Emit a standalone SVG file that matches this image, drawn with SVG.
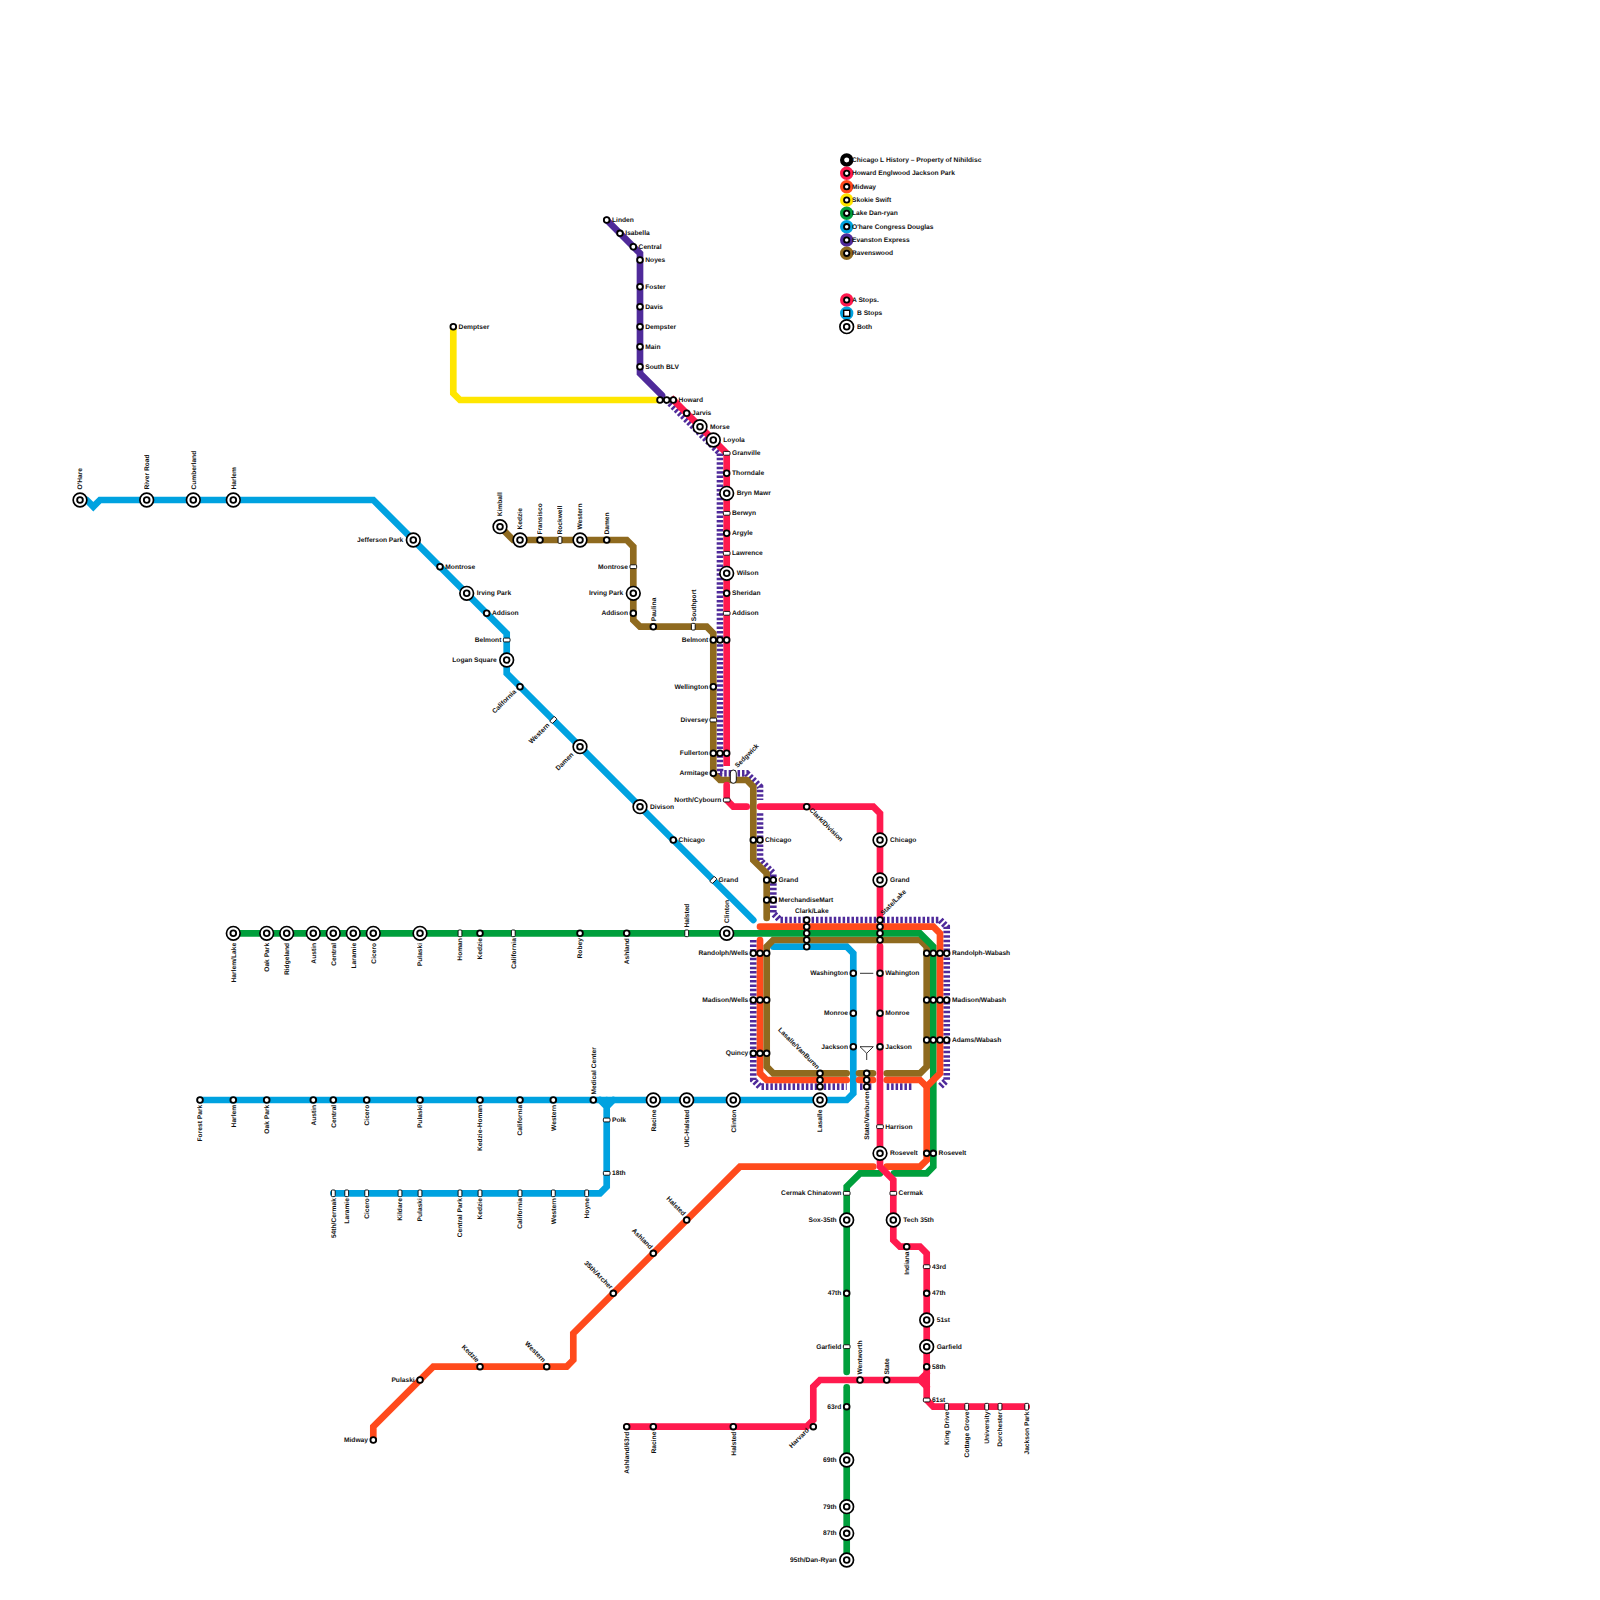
<svg xmlns="http://www.w3.org/2000/svg" xmlns:xlink="http://www.w3.org/1999/xlink" width="1600" height="1600" viewBox="0 0 1600 1600">
<style>
text{font-family:"Liberation Sans",Arial,sans-serif;font-size:6.67px;font-weight:bold;fill:#111;text-rendering:geometricPrecision;opacity:.999;translate:0 -.4px}
.e{text-anchor:end}
path{fill:none;stroke-width:6.67;stroke-linejoin:miter;stroke-linecap:round}
.re{stroke:#ff1a4e}.or{stroke:#ff4a1c}.ye{stroke:#ffe600}.gr{stroke:#009f3c}.bl{stroke:#00a2e0}.pu{stroke:#4f2a9a;stroke-linecap:butt;stroke-dasharray:2.5 1.94}.ps{stroke:#4f2a9a}.br{stroke:#8f6a1f}
.s{fill:#fff;stroke:#000;stroke-width:1.85}
.b{fill:#fff;stroke:#000;stroke-width:1.67}
.r{fill:#fff;stroke:#000;stroke-width:.9}
.lg{stroke-width:4.2;fill:#fff}
.thin{stroke:#000;stroke-width:.8;fill:none;stroke-linecap:butt}
</style>
<defs>
<circle id="t" r="2.85" class="s"/>
<g id="d"><circle r="6.83" class="b"/><circle r="2.85" class="s"/></g>
<rect id="h" x="-3.33" y="-1.9" width="6.67" height="3.8" rx="1" class="r"/>
<rect id="v" x="-1.9" y="-3.33" width="3.8" height="6.67" rx="1" class="r"/>
</defs>
<g id="connectors">
<path id="line-skokie" class="ye" style="stroke-linecap:butt" d="M453.3,326.7V393.3L460,400H660"/>
<path id="line-evanston" class="ps" d="M606.7,220L640,253.3V373.3L662,395.3"/>
<path class="pu" d="M666.7,400L720,453.3V773.3H746.7L760,786.7V800"/>
<path class="pu" d="M760,813.3V860L773.3,873.3V913.3L780,920H940L946.7,926.7V1080L940,1086.7"/>
<path class="pu" d="M753.3,940V1080L760,1086.7H846.7M860,1086.7H873.3M886.7,1086.7H913.3"/>
<path id="line-ohare" class="bl" d="M86.7,500L93.3,506.7L100,500H373.3L506.7,633.3V673.3L753.3,920"/>
<path id="line-congress" class="bl" d="M200,1100H846.7L853.3,1093.3V953.3L846.7,946.7H773.3"/>
<path id="line-douglas" class="bl" d="M600,1100L606.7,1106.7L613.3,1100M606.7,1100V1186.7L600,1193.3H333.3"/>
<path id="line-midway-1" class="or" d="M760,940V1073.3L766.7,1080H846.7"/>
<path class="or" d="M859,1080H873"/>
<path id="line-midway-2" class="or" d="M873.3,1166.7H740L573.3,1333.3V1360L566.7,1366.7H433.3L373.3,1426.7V1440"/>
<path id="line-ravenswood" class="br" d="M500,526.7L513.3,540H626.7L633.3,546.7V620L640,626.7H706.7L713.3,633.3V773.3L720,780H746.7L753.3,786.7V860L766.7,873.3V918"/>
<path class="br" d="M846.7,1073.3H773.3L766.7,1066.7V946.7L773.3,940H920L926.7,946.7V1066.7L920,1073.3H886.7"/>
<path class="br" d="M859,1073.3H873"/>
<path id="line-danryan-1" class="gr" d="M233.3,933.3H920L933.3,946.7V1166.7L926.7,1173.3H894"/>
<path id="line-danryan-2" class="gr" d="M880,1173.3H860L846.7,1186.7V1372"/>
<path class="gr" d="M846.7,1387.3V1560"/>
<path class="or" d="M760,926.7H933.3L940,933.3V1073.3L926.7,1086.7"/>
<path class="or" d="M886.7,1080H920L926.7,1086.7V1160L920,1166.7H886.7"/>
<path id="line-jackson-1" class="re" style="stroke-linecap:butt" d="M671,397.7L726.7,453.3V766"/>
<path class="re" d="M726.7,785V800L733.3,806.7H746.7"/>
<path class="re" d="M760,806.7H873.3L880,813.3V916"/>
<path id="line-jackson-2" class="re" d="M880,946V1166.7L893.3,1180V1240L900,1246.7H920L926.7,1253.3V1400L933.3,1406.7H1026.7"/>
<path id="line-englewood" class="re" d="M626.7,1426.7H806.7L813.3,1420V1386.7L820,1380H920L926.7,1373.3M920,1380L926.7,1386.7"/>
</g>
<g id="legend">
<g id="lg1"><circle cx="846.7" cy="160" r="4.6" class="lg" stroke="#000"/><circle cx="846.7" cy="160" r="2" fill="#fff"/><text x="852" y="162.4">Chicago L History – Property of Nihildisc</text></g>
<g id="lg2"><circle cx="846.7" cy="173.3" r="4.6" class="lg" stroke="#ff1a4e"/><circle cx="846.7" cy="173.3" r="2.67" class="s"/><text x="852" y="175.7">Howard Englwood Jackson Park</text></g>
<g id="lg3"><circle cx="846.7" cy="186.7" r="4.6" class="lg" stroke="#ff4a1c"/><circle cx="846.7" cy="186.7" r="2.67" class="s"/><text x="852" y="189.1">Midway</text></g>
<g id="lg4"><circle cx="846.7" cy="200" r="4.6" class="lg" stroke="#ffe600"/><circle cx="846.7" cy="200" r="2.67" class="s"/><text x="852" y="202.4">Skokie Swift</text></g>
<g id="lg5"><circle cx="846.7" cy="213.3" r="4.6" class="lg" stroke="#009f3c"/><circle cx="846.7" cy="213.3" r="2.67" class="s"/><text x="852" y="215.7">Lake Dan-ryan</text></g>
<g id="lg6"><circle cx="846.7" cy="226.7" r="4.6" class="lg" stroke="#00a2e0"/><circle cx="846.7" cy="226.7" r="2.67" class="s"/><text x="852" y="229.1">O'hare Congress Douglas</text></g>
<g id="lg7"><circle cx="846.7" cy="240" r="4.6" class="lg" stroke="#4f2a9a"/><circle cx="846.7" cy="240" r="2.67" class="s"/><text x="852" y="242.4">Evanston Express</text></g>
<g id="lg8"><circle cx="846.7" cy="253.3" r="4.6" class="lg" stroke="#8f6a1f"/><circle cx="846.7" cy="253.3" r="2.67" class="s"/><text x="852" y="255.7">Ravenswood</text></g>
<g id="lgA"><circle cx="846.7" cy="300" r="4.6" class="lg" stroke="#ff1a4e"/><circle cx="846.7" cy="300" r="2.67" class="s"/><text x="852" y="302.4">A Stops.</text></g>
<g id="lgB"><circle cx="846.7" cy="313.3" r="4.6" class="lg" stroke="#00a2e0"/><rect x="843.7" y="310.3" width="6" height="6" class="s" style="stroke-width:1.4"/><text x="857" y="315.7">B Stops</text></g>
<g id="lgC"><use href="#d" x="846.7" y="326.7"/><text x="857" y="329.1">Both</text></g>
</g>
<g id="stops-skokie">
<g id="st-demptser"><use href="#t" x="453.3" y="326.7"/><text x="458.6" y="329.1">Demptser</text></g>
</g>
<g id="stops-evanston">
<g id="st-linden"><use href="#t" x="606.7" y="220"/><text x="612" y="222.4">Linden</text></g>
<g id="st-isabella"><use href="#t" x="620" y="233.3"/><text x="625.3" y="235.7">Isabella</text></g>
<g id="st-central"><use href="#t" x="633.3" y="246.7"/><text x="638.6" y="249.1">Central</text></g>
<g id="st-noyes"><use href="#t" x="640" y="260"/><text x="645.3" y="262.4">Noyes</text></g>
<g id="st-foster"><use href="#t" x="640" y="286.7"/><text x="645.3" y="289.1">Foster</text></g>
<g id="st-davis"><use href="#t" x="640" y="306.7"/><text x="645.3" y="309.1">Davis</text></g>
<g id="st-dempster"><use href="#t" x="640" y="326.7"/><text x="645.3" y="329.1">Dempster</text></g>
<g id="st-main"><use href="#t" x="640" y="346.7"/><text x="645.3" y="349.1">Main</text></g>
<g id="st-south"><use href="#t" x="640" y="366.7"/><text x="645.3" y="369.1">South BLV</text></g>
</g>
<g id="stops-north">
<g id="st-howard"><use href="#t" x="660" y="400"/><use href="#t" x="666.7" y="400"/><use href="#t" x="673.3" y="400"/><text x="678.6" y="402.4">Howard</text></g>
<g id="st-jarvis"><use href="#t" x="686.7" y="413.3"/><text x="692" y="415.7">Jarvis</text></g>
<g id="st-morse"><use href="#d" x="700" y="426.7"/><text x="710" y="429.1">Morse</text></g>
<g id="st-loyola"><use href="#d" x="713.3" y="440"/><text x="723.3" y="442.4">Loyola</text></g>
<g id="st-granville"><use href="#h" x="726.7" y="453.3"/><text x="732" y="455.7">Granville</text></g>
<g id="st-thorndale"><use href="#t" x="726.7" y="473.3"/><text x="732" y="475.7">Thorndale</text></g>
<g id="st-brynmawr"><use href="#d" x="726.7" y="493.3"/><text x="736.7" y="495.7">Bryn Mawr</text></g>
<g id="st-berwyn"><use href="#h" x="726.7" y="513.3"/><text x="732" y="515.7">Berwyn</text></g>
<g id="st-argyle"><use href="#t" x="726.7" y="533.3"/><text x="732" y="535.7">Argyle</text></g>
<g id="st-lawrence"><use href="#h" x="726.7" y="553.3"/><text x="732" y="555.7">Lawrence</text></g>
<g id="st-wilson"><use href="#d" x="726.7" y="573.3"/><text x="736.7" y="575.7">Wilson</text></g>
<g id="st-sheridan"><use href="#t" x="726.7" y="593.3"/><text x="732" y="595.7">Sheridan</text></g>
<g id="st-addison-r"><use href="#h" x="726.7" y="613.3"/><text x="732" y="615.7">Addison</text></g>
<g id="st-belmont"><use href="#t" x="713.3" y="640"/><use href="#t" x="720" y="640"/><use href="#t" x="726.7" y="640"/><text class="e" x="708.3" y="642.4">Belmont</text></g>
<g id="st-wellington"><use href="#t" x="713.3" y="686.7"/><text class="e" x="708.3" y="689.1">Wellington</text></g>
<g id="st-diversey"><use href="#h" x="713.3" y="720"/><text class="e" x="708.3" y="722.4">Diversey</text></g>
<g id="st-fullerton"><use href="#t" x="713.3" y="753.3"/><use href="#t" x="720" y="753.3"/><use href="#t" x="726.7" y="753.3"/><text class="e" x="708.3" y="755.7">Fullerton</text></g>
<g id="st-armitage"><use href="#t" x="713.3" y="773.3"/><text class="e" x="708.3" y="775.7">Armitage</text></g>
<g id="st-sedgwick"><rect x="730.3" y="770" width="6" height="13.3" rx="3" class="r"/><text x="737.5" y="768.5" transform="rotate(-45 737.5 768.5)">Sedgwick</text></g>
<g id="st-north"><use href="#h" x="726.7" y="800"/><text class="e" x="721.3" y="802.4">North/Cybourn</text></g>
<g id="st-clarkdiv"><use href="#t" x="806.7" y="806.7"/><text x="809" y="811" transform="rotate(45 809 811)">Clark/Division</text></g>
<g id="st-chicago-b"><use href="#t" x="753.3" y="840"/><use href="#t" x="760" y="840"/><text x="765" y="842.4">Chicago</text></g>
<g id="st-grand-b"><use href="#t" x="766.7" y="880"/><use href="#t" x="773.3" y="880"/><text x="778.6" y="882.4">Grand</text></g>
<g id="st-mart"><use href="#t" x="766.7" y="900"/><use href="#t" x="773.3" y="900"/><text x="778.6" y="902.4">MerchandiseMart</text></g>
<g id="st-chicago-r"><use href="#d" x="880" y="840"/><text x="890" y="842.4">Chicago</text></g>
<g id="st-grand-r"><use href="#d" x="880" y="880"/><text x="890" y="882.4">Grand</text></g>
</g>
<g id="stops-ravenswood">
<g id="st-kimball"><use href="#d" x="500" y="526.7"/><text x="502.4" y="516.7" transform="rotate(-90 502.4 516.7)">Kimball</text></g>
<g id="st-kedzie-br"><use href="#d" x="520" y="540"/><text x="522.4" y="530" transform="rotate(-90 522.4 530)">Kedzie</text></g>
<g id="st-fransisco"><use href="#t" x="540" y="540"/><text x="542.4" y="535" transform="rotate(-90 542.4 535)">Fransisco</text></g>
<g id="st-rockwell"><use href="#v" x="560" y="540"/><text x="562.4" y="535" transform="rotate(-90 562.4 535)">Rockwell</text></g>
<g id="st-western-br"><use href="#d" x="580" y="540"/><text x="582.4" y="530" transform="rotate(-90 582.4 530)">Western</text></g>
<g id="st-damen-br"><use href="#t" x="606.7" y="540"/><text x="609.1" y="535" transform="rotate(-90 609.1 535)">Damen</text></g>
<g id="st-montrose-br"><use href="#h" x="633.3" y="566.7"/><text class="e" x="628" y="569.1">Montrose</text></g>
<g id="st-irving-br"><use href="#d" x="633.3" y="593.3"/><text class="e" x="623.3" y="595.7">Irving Park</text></g>
<g id="st-addison-br"><use href="#t" x="633.3" y="613.3"/><text class="e" x="628" y="615.7">Addison</text></g>
<g id="st-paulina"><use href="#t" x="653.3" y="626.7"/><text x="655.7" y="621.7" transform="rotate(-90 655.7 621.7)">Paulina</text></g>
<g id="st-southport"><use href="#v" x="693.3" y="626.7"/><text x="695.7" y="621.7" transform="rotate(-90 695.7 621.7)">Southport</text></g>
</g>
<g id="stops-ohare">
<g id="st-ohare"><use href="#d" x="80" y="500"/><text x="82.4" y="490" transform="rotate(-90 82.4 490)">O'Hare</text></g>
<g id="st-river"><use href="#d" x="146.7" y="500"/><text x="149.1" y="490" transform="rotate(-90 149.1 490)">River Road</text></g>
<g id="st-cumberland"><use href="#d" x="193.3" y="500"/><text x="195.7" y="490" transform="rotate(-90 195.7 490)">Cumberland</text></g>
<g id="st-harlem-o"><use href="#d" x="233.3" y="500"/><text x="235.7" y="490" transform="rotate(-90 235.7 490)">Harlem</text></g>
<g id="st-jefferson"><use href="#d" x="413.3" y="540"/><text class="e" x="403.3" y="542.4">Jefferson Park</text></g>
<g id="st-montrose-o"><use href="#t" x="440" y="566.7"/><text x="445.3" y="569.1">Montrose</text></g>
<g id="st-irving-o"><use href="#d" x="466.7" y="593.3"/><text x="476.7" y="595.7">Irving Park</text></g>
<g id="st-addison-o"><use href="#t" x="486.7" y="613.3"/><text x="492" y="615.7">Addison</text></g>
<g id="st-belmont-o"><use href="#h" x="506.7" y="640"/><text class="e" x="501.4" y="642.4">Belmont</text></g>
<g id="st-logan"><use href="#d" x="506.7" y="660"/><text class="e" x="496.7" y="662.4">Logan Square</text></g>
<g id="st-california-o"><use href="#t" x="520" y="686.7"/><text class="e" x="516.5" y="692.5" transform="rotate(-45 516.5 692.5)">California</text></g>
<g id="st-western-o"><use href="#h" x="553.3" y="720" transform="rotate(-45 553.3 720)"/><text class="e" x="550" y="726" transform="rotate(-45 550 726)">Western</text></g>
<g id="st-damen-o"><use href="#d" x="580" y="746.7"/><text class="e" x="574" y="755.5" transform="rotate(-45 574 755.5)">Damen</text></g>
<g id="st-divison"><use href="#d" x="640" y="806.7"/><text x="650" y="809.1">Divison</text></g>
<g id="st-chicago-o"><use href="#t" x="673.3" y="840"/><text x="678.6" y="842.4">Chicago</text></g>
<g id="st-grand-o"><use href="#h" x="713.3" y="880" transform="rotate(-45 713.3 880)"/><text x="718.6" y="882.4">Grand</text></g>
</g>
<g id="stops-green-west">
<g id="st-harlemlake"><use href="#d" x="233.3" y="933.3"/><text class="e" x="235.7" y="943.3" transform="rotate(-90 235.7 943.3)">Harlem/Lake</text></g>
<g id="st-oak-g"><use href="#d" x="266.7" y="933.3"/><text class="e" x="269.1" y="943.3" transform="rotate(-90 269.1 943.3)">Oak Park</text></g>
<g id="st-ridgeland"><use href="#d" x="286.7" y="933.3"/><text class="e" x="289.1" y="943.3" transform="rotate(-90 289.1 943.3)">Ridgeland</text></g>
<g id="st-austin-g"><use href="#d" x="313.3" y="933.3"/><text class="e" x="315.7" y="943.3" transform="rotate(-90 315.7 943.3)">Austin</text></g>
<g id="st-central-g"><use href="#d" x="333.3" y="933.3"/><text class="e" x="335.7" y="943.3" transform="rotate(-90 335.7 943.3)">Central</text></g>
<g id="st-laramie-g"><use href="#d" x="353.3" y="933.3"/><text class="e" x="355.7" y="943.3" transform="rotate(-90 355.7 943.3)">Laramie</text></g>
<g id="st-cicero-g"><use href="#d" x="373.3" y="933.3"/><text class="e" x="375.7" y="943.3" transform="rotate(-90 375.7 943.3)">Cicero</text></g>
<g id="st-pulaski-g"><use href="#d" x="420" y="933.3"/><text class="e" x="422.4" y="943.3" transform="rotate(-90 422.4 943.3)">Pulaski</text></g>
<g id="st-homan"><use href="#v" x="460" y="933.3"/><text class="e" x="462.4" y="938.5" transform="rotate(-90 462.4 938.5)">Homan</text></g>
<g id="st-kedzie-g"><use href="#t" x="480" y="933.3"/><text class="e" x="482.4" y="938.5" transform="rotate(-90 482.4 938.5)">Kedzie</text></g>
<g id="st-california-g"><use href="#v" x="513.3" y="933.3"/><text class="e" x="515.7" y="938.5" transform="rotate(-90 515.7 938.5)">California</text></g>
<g id="st-robey"><use href="#t" x="580" y="933.3"/><text class="e" x="582.4" y="938.5" transform="rotate(-90 582.4 938.5)">Robey</text></g>
<g id="st-ashland-g"><use href="#t" x="626.7" y="933.3"/><text class="e" x="629.1" y="938.5" transform="rotate(-90 629.1 938.5)">Ashland</text></g>
<g id="st-halsted-g"><use href="#v" x="686.7" y="933.3"/><text x="689.1" y="928" transform="rotate(-90 689.1 928)">Halsted</text></g>
<g id="st-clinton-g"><use href="#d" x="726.7" y="933.3"/><text x="729.1" y="923.3" transform="rotate(-90 729.1 923.3)">Clinton</text></g>
</g>
<g id="stops-loop">
<g id="st-clarklake"><use href="#t" x="806.7" y="920"/><use href="#t" x="806.7" y="926.7"/><use href="#t" x="806.7" y="933.3"/><use href="#t" x="806.7" y="940"/><use href="#t" x="806.7" y="946.7"/><text x="795" y="913.2">Clark/Lake</text></g>
<g id="st-statelake"><use href="#t" x="880" y="920"/><use href="#t" x="880" y="926.7"/><use href="#t" x="880" y="933.3"/><use href="#t" x="880" y="940"/><text x="883" y="916" transform="rotate(-45 883 916)">State/Lake</text></g>
<g id="st-randolphwells"><use href="#t" x="753.3" y="953.3"/><use href="#t" x="760" y="953.3"/><use href="#t" x="766.7" y="953.3"/><text class="e" x="748.3" y="955.7">Randolph/Wells</text></g>
<g id="st-madisonwells"><use href="#t" x="753.3" y="1000"/><use href="#t" x="760" y="1000"/><use href="#t" x="766.7" y="1000"/><text class="e" x="748.3" y="1002.4">Madison/Wells</text></g>
<g id="st-quincy"><use href="#t" x="753.3" y="1053.3"/><use href="#t" x="760" y="1053.3"/><use href="#t" x="766.7" y="1053.3"/><text class="e" x="748.3" y="1055.7">Quincy</text></g>
<g id="st-randolphwabash"><use href="#t" x="926.7" y="953.3"/><use href="#t" x="933.3" y="953.3"/><use href="#t" x="940" y="953.3"/><use href="#t" x="946.7" y="953.3"/><text x="952" y="955.7">Randolph-Wabash</text></g>
<g id="st-madisonwabash"><use href="#t" x="926.7" y="1000"/><use href="#t" x="933.3" y="1000"/><use href="#t" x="940" y="1000"/><use href="#t" x="946.7" y="1000"/><text x="952" y="1002.4">Madison/Wabash</text></g>
<g id="st-adamswabash"><use href="#t" x="926.7" y="1040"/><use href="#t" x="933.3" y="1040"/><use href="#t" x="940" y="1040"/><use href="#t" x="946.7" y="1040"/><text x="952" y="1042.4">Adams/Wabash</text></g>
<g id="st-washington"><use href="#t" x="853.3" y="973.3"/><text class="e" x="848" y="975.7">Washington</text></g>
<g id="st-monroe-b"><use href="#t" x="853.3" y="1013.3"/><text class="e" x="848" y="1015.7">Monroe</text></g>
<g id="st-jackson-b"><use href="#t" x="853.3" y="1046.7"/><text class="e" x="848" y="1049.1">Jackson</text></g>
<g id="st-wahington"><use href="#t" x="880" y="973.3"/><text x="885.3" y="975.7">Wahington</text></g>
<g id="st-monroe-r"><use href="#t" x="880" y="1013.3"/><text x="885.3" y="1015.7">Monroe</text></g>
<g id="st-jackson-r"><use href="#t" x="880" y="1046.7"/><text x="885.3" y="1049.1">Jackson</text></g>
<path class="thin" d="M860,973.3H873.3"/>
<path class="thin" d="M860,1046.7H873.3L866.7,1053.3L860,1046.7M866.7,1053.3V1060"/>
<g id="st-lasallevan"><use href="#t" x="820" y="1073.3"/><use href="#t" x="820" y="1080"/><use href="#t" x="820" y="1086.7"/><text class="e" x="817" y="1070" transform="rotate(45 817 1070)">Lasalle/VanBuren</text></g>
<g id="st-statevan"><use href="#t" x="866.7" y="1073.3"/><use href="#t" x="866.7" y="1080"/><use href="#t" x="866.7" y="1086.7"/><text class="e" x="869.1" y="1091.7" transform="rotate(-90 869.1 1091.7)">State/Vanburen</text></g>
<g id="st-harrison"><use href="#h" x="880" y="1126.7"/><text x="885.3" y="1129.1">Harrison</text></g>
<g id="st-rosevelt-r"><use href="#d" x="880" y="1153.3"/><text x="890" y="1155.7">Rosevelt</text></g>
<g id="st-rosevelt-g"><use href="#t" x="926.7" y="1153.3"/><use href="#t" x="933.3" y="1153.3"/><text x="938.6" y="1155.7">Rosevelt</text></g>
</g>
<g id="stops-congress">
<g id="st-forest"><use href="#t" x="200" y="1100"/><text class="e" x="202.4" y="1105.2" transform="rotate(-90 202.4 1105.2)">Forest Park</text></g>
<g id="st-harlem-c"><use href="#t" x="233.3" y="1100"/><text class="e" x="235.7" y="1105.2" transform="rotate(-90 235.7 1105.2)">Harlem</text></g>
<g id="st-oak-c"><use href="#t" x="266.7" y="1100"/><text class="e" x="269.1" y="1105.2" transform="rotate(-90 269.1 1105.2)">Oak Park</text></g>
<g id="st-austin-c"><use href="#t" x="313.3" y="1100"/><text class="e" x="315.7" y="1105.2" transform="rotate(-90 315.7 1105.2)">Austin</text></g>
<g id="st-central-c"><use href="#t" x="333.3" y="1100"/><text class="e" x="335.7" y="1105.2" transform="rotate(-90 335.7 1105.2)">Central</text></g>
<g id="st-cicero-c"><use href="#t" x="366.7" y="1100"/><text class="e" x="369.1" y="1105.2" transform="rotate(-90 369.1 1105.2)">Cicero</text></g>
<g id="st-pulaski-c"><use href="#t" x="420" y="1100"/><text class="e" x="422.4" y="1105.2" transform="rotate(-90 422.4 1105.2)">Pulaski</text></g>
<g id="st-kedzie-c"><use href="#t" x="480" y="1100"/><text class="e" x="482.4" y="1105.2" transform="rotate(-90 482.4 1105.2)">Kedzie-Homan</text></g>
<g id="st-california-c"><use href="#t" x="520" y="1100"/><text class="e" x="522.4" y="1105.2" transform="rotate(-90 522.4 1105.2)">California</text></g>
<g id="st-western-c"><use href="#t" x="553.3" y="1100"/><text class="e" x="555.7" y="1105.2" transform="rotate(-90 555.7 1105.2)">Western</text></g>
<g id="st-medical"><use href="#t" x="593.3" y="1100"/><text x="595.7" y="1095" transform="rotate(-90 595.7 1095)">Medical Center</text></g>
<g id="st-racine-c"><use href="#d" x="653.3" y="1100"/><text class="e" x="655.7" y="1110" transform="rotate(-90 655.7 1110)">Racine</text></g>
<g id="st-uic"><use href="#d" x="686.7" y="1100"/><text class="e" x="689.1" y="1110" transform="rotate(-90 689.1 1110)">UIC-Halsted</text></g>
<g id="st-clinton-c"><use href="#d" x="733.3" y="1100"/><text class="e" x="735.7" y="1110" transform="rotate(-90 735.7 1110)">Clinton</text></g>
<g id="st-lasalle"><use href="#d" x="820" y="1100"/><text class="e" x="822.4" y="1110" transform="rotate(-90 822.4 1110)">Lasalle</text></g>
<g id="st-polk"><use href="#h" x="606.7" y="1120"/><text x="612" y="1122.4">Polk</text></g>
<g id="st-18th"><use href="#h" x="606.7" y="1173.3"/><text x="612" y="1175.7">18th</text></g>
</g>
<g id="stops-douglas">
<g id="st-54th"><use href="#v" x="333.3" y="1193.3"/><text class="e" x="335.7" y="1198.5" transform="rotate(-90 335.7 1198.5)">54th/Cermak</text></g>
<g id="st-laramie-d"><use href="#v" x="346.7" y="1193.3"/><text class="e" x="349.1" y="1198.5" transform="rotate(-90 349.1 1198.5)">Laramie</text></g>
<g id="st-cicero-d"><use href="#v" x="366.7" y="1193.3"/><text class="e" x="369.1" y="1198.5" transform="rotate(-90 369.1 1198.5)">Cicero</text></g>
<g id="st-kildare"><use href="#v" x="400" y="1193.3"/><text class="e" x="402.4" y="1198.5" transform="rotate(-90 402.4 1198.5)">Kildare</text></g>
<g id="st-pulaski-d"><use href="#v" x="420" y="1193.3"/><text class="e" x="422.4" y="1198.5" transform="rotate(-90 422.4 1198.5)">Pulaski</text></g>
<g id="st-centralpark"><use href="#v" x="460" y="1193.3"/><text class="e" x="462.4" y="1198.5" transform="rotate(-90 462.4 1198.5)">Central Park</text></g>
<g id="st-kedzie-d"><use href="#v" x="480" y="1193.3"/><text class="e" x="482.4" y="1198.5" transform="rotate(-90 482.4 1198.5)">Kedzie</text></g>
<g id="st-california-d"><use href="#v" x="520" y="1193.3"/><text class="e" x="522.4" y="1198.5" transform="rotate(-90 522.4 1198.5)">California</text></g>
<g id="st-western-d"><use href="#v" x="553.3" y="1193.3"/><text class="e" x="555.7" y="1198.5" transform="rotate(-90 555.7 1198.5)">Western</text></g>
<g id="st-hoyne"><use href="#v" x="586.7" y="1193.3"/><text class="e" x="589.1" y="1198.5" transform="rotate(-90 589.1 1198.5)">Hoyne</text></g>
</g>
<g id="stops-midway">
<g id="st-halsted-m"><use href="#t" x="686.7" y="1220"/><text class="e" x="683" y="1216.5" transform="rotate(45 683 1216.5)">Halsted</text></g>
<g id="st-ashland-m"><use href="#t" x="653.3" y="1253.3"/><text class="e" x="650" y="1250" transform="rotate(45 650 1250)">Ashland</text></g>
<g id="st-archer"><use href="#t" x="613.3" y="1293.3"/><text class="e" x="610" y="1290" transform="rotate(45 610 1290)">35th/Archer</text></g>
<g id="st-western-m"><use href="#t" x="546.7" y="1366.7"/><text class="e" x="543" y="1363" transform="rotate(45 543 1363)">Western</text></g>
<g id="st-kedzie-m"><use href="#t" x="480" y="1366.7"/><text class="e" x="476.5" y="1363" transform="rotate(45 476.5 1363)">Kedzie</text></g>
<g id="st-pulaski-m"><use href="#t" x="420" y="1380"/><text class="e" x="414.7" y="1382.4">Pulaski</text></g>
<g id="st-midway"><use href="#t" x="373.3" y="1440"/><text class="e" x="368" y="1442.4">Midway</text></g>
</g>
<g id="stops-danryan">
<g id="st-cermakchina"><use href="#h" x="846.7" y="1193.3"/><text class="e" x="841.4" y="1195.7">Cermak Chinatown</text></g>
<g id="st-sox"><use href="#d" x="846.7" y="1220"/><text class="e" x="836.7" y="1222.4">Sox-35th</text></g>
<g id="st-47-g"><use href="#t" x="846.7" y="1293.3"/><text class="e" x="841.4" y="1295.7">47th</text></g>
<g id="st-garfield-g"><use href="#h" x="846.7" y="1346.7"/><text class="e" x="841.4" y="1349.1">Garfield</text></g>
<g id="st-63"><use href="#t" x="846.7" y="1406.7"/><text class="e" x="841.4" y="1409.1">63rd</text></g>
<g id="st-69"><use href="#d" x="846.7" y="1460"/><text class="e" x="836.7" y="1462.4">69th</text></g>
<g id="st-79"><use href="#d" x="846.7" y="1506.7"/><text class="e" x="836.7" y="1509.1">79th</text></g>
<g id="st-87"><use href="#d" x="846.7" y="1533.3"/><text class="e" x="836.7" y="1535.7">87th</text></g>
<g id="st-95"><use href="#d" x="846.7" y="1560"/><text class="e" x="836.7" y="1562.4">95th/Dan-Ryan</text></g>
</g>
<g id="stops-south">
<g id="st-cermak"><use href="#h" x="893.3" y="1193.3"/><text x="898.6" y="1195.7">Cermak</text></g>
<g id="st-tech"><use href="#d" x="893.3" y="1220"/><text x="903.3" y="1222.4">Tech 35th</text></g>
<g id="st-indiana"><use href="#t" x="906.7" y="1246.7"/><text class="e" x="909.1" y="1251.9" transform="rotate(-90 909.1 1251.9)">Indiana</text></g>
<g id="st-43"><use href="#h" x="926.7" y="1266.7"/><text x="932" y="1269.1">43rd</text></g>
<g id="st-47-r"><use href="#t" x="926.7" y="1293.3"/><text x="932" y="1295.7">47th</text></g>
<g id="st-51"><use href="#d" x="926.7" y="1320"/><text x="936.7" y="1322.4">51st</text></g>
<g id="st-garfield-r"><use href="#d" x="926.7" y="1346.7"/><text x="936.7" y="1349.1">Garfield</text></g>
<g id="st-58"><use href="#t" x="926.7" y="1366.7"/><text x="932" y="1369.1">58th</text></g>
<g id="st-61"><use href="#h" x="926.7" y="1400"/><text x="932" y="1402.4">61st</text></g>
<g id="st-king"><use href="#v" x="946.7" y="1406.7"/><text class="e" x="949.1" y="1412" transform="rotate(-90 949.1 1412)">King Drive</text></g>
<g id="st-cottage"><use href="#v" x="966.7" y="1406.7"/><text class="e" x="969.1" y="1412" transform="rotate(-90 969.1 1412)">Cottage Grove</text></g>
<g id="st-university"><use href="#v" x="986.7" y="1406.7"/><text class="e" x="989.1" y="1412" transform="rotate(-90 989.1 1412)">University</text></g>
<g id="st-dorchester"><use href="#v" x="1000" y="1406.7"/><text class="e" x="1002.4" y="1412" transform="rotate(-90 1002.4 1412)">Dorchester</text></g>
<g id="st-jacksonpark"><use href="#v" x="1026.7" y="1406.7"/><text class="e" x="1029.1" y="1412" transform="rotate(-90 1029.1 1412)">Jackson Park</text></g>
<g id="st-wentworth"><use href="#t" x="860" y="1380"/><text x="862.4" y="1375" transform="rotate(-90 862.4 1375)">Wentworth</text></g>
<g id="st-state"><use href="#t" x="886.7" y="1380"/><text x="889.1" y="1375" transform="rotate(-90 889.1 1375)">State</text></g>
<g id="st-harvard"><use href="#t" x="813.3" y="1426.7"/><text class="e" x="809.5" y="1431" transform="rotate(-45 809.5 1431)">Harvard</text></g>
<g id="st-ashland63"><use href="#t" x="626.7" y="1426.7"/><text class="e" x="629.1" y="1432" transform="rotate(-90 629.1 1432)">Ashland/63rd</text></g>
<g id="st-racine-e"><use href="#t" x="653.3" y="1426.7"/><text class="e" x="655.7" y="1432" transform="rotate(-90 655.7 1432)">Racine</text></g>
<g id="st-halsted-e"><use href="#t" x="733.3" y="1426.7"/><text class="e" x="735.7" y="1432" transform="rotate(-90 735.7 1432)">Halsted</text></g>
</g>
</svg>
